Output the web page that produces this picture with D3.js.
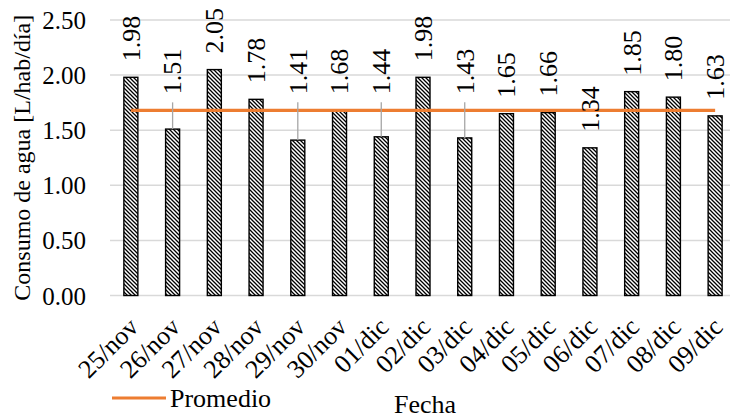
<!DOCTYPE html>
<html>
<head>
<meta charset="utf-8">
<script src="https://cdn.jsdelivr.net/npm/d3@7/dist/d3.min.js"></script>
<style>
  html, body { margin: 0; padding: 0; background: #fff; }
  svg { display: block; }
  svg text { font-family: "Liberation Serif", "Times New Roman", serif !important; fill: #000; }
</style>
</head>
<body>
<svg id="chart" width="730" height="419"></svg>
<script>
// ---- data ----
const categories = ["25/nov","26/nov","27/nov","28/nov","29/nov","30/nov","01/dic","02/dic","03/dic","04/dic","05/dic","06/dic","07/dic","08/dic","09/dic"];
const consumo = [1.98,1.51,2.05,1.78,1.41,1.68,1.44,1.98,1.43,1.65,1.66,1.34,1.85,1.80,1.63];
const promedio = [1.68,1.68,1.68,1.68,1.68,1.68,1.68,1.68,1.68,1.68,1.68,1.68,1.68,1.68,1.68];
const yTicks = [0, 0.5, 1.0, 1.5, 2.0, 2.5];
const seriesName = "Promedio";
const yTitle = "Consumo de agua [L/hab/día]";
const xTitle = "Fecha";
// labels that were moved above the average line (with leader lines)
const liftedLabels = ["26/nov","29/nov","01/dic","03/dic"];

// ---- layout ----
const FONT = "Liberation Serif";
const svg = d3.select("#chart");
const plot = { left: 110, right: 736, top: 20, bottom: 295.5 };
const x = d3.scaleBand().domain(categories).range([plot.left, plot.right]).paddingInner(0).paddingOuter(0);
const y = d3.scaleLinear().domain([0, 2.5]).range([plot.bottom, plot.top]);
const barW = 14;
const cx = d => x(d) + x.bandwidth() / 2;

// pattern
const defs = svg.append("defs");
const pat = defs.append("pattern").attr("id", "hatch").attr("patternUnits", "userSpaceOnUse")
  .attr("width", 4).attr("height", 4);
pat.append("rect").attr("width", 4).attr("height", 4).attr("fill", "#fff");
pat.append("path").attr("d", "M-1,-1 L5,5 M-1,3 L1,5 M3,-1 L5,1")
  .attr("stroke", "#000").attr("stroke-width", 1.3);

// gridlines
svg.append("g").selectAll("line").data(yTicks).join("line")
  .attr("x1", plot.left).attr("x2", 730)
  .attr("y1", d => y(d)).attr("y2", d => y(d))
  .attr("stroke", "#d9d9d9").attr("stroke-width", 1.5);

// y axis labels
const yAxis = d3.axisLeft(y).tickValues(yTicks).tickFormat(d3.format(".2f")).tickSize(0).tickPadding(0);
const yg = svg.append("g").attr("transform", `translate(86,0)`).call(yAxis)
  .attr("font-family", FONT).attr("font-size", 25);
yg.select(".domain").remove();
yg.selectAll("text").attr("font-size", 25).attr("fill", "#000").attr("dy", "0.34em");

// bars
svg.append("g").selectAll("rect").data(categories).join("rect")
  .attr("x", d => cx(d) - barW / 2)
  .attr("y", (d, i) => y(consumo[i]))
  .attr("width", barW)
  .attr("height", (d, i) => y(0) - y(consumo[i]))
  .attr("fill", "url(#hatch)")
  .attr("stroke", "#000").attr("stroke-width", 1.4);

// average line
const line = d3.line().x((d, i) => cx(categories[i])).y(d => y(d));
svg.append("path").datum(promedio).attr("d", line)
  .attr("fill", "none").attr("stroke", "#ED7D31").attr("stroke-width", 3.2);

// data labels
const avgY = y(d3.mean(promedio));
const lg = svg.append("g").attr("font-family", FONT);
categories.forEach((c, i) => {
  const lifted = liftedLabels.includes(c);
  const baseY = lifted ? avgY - 16 : y(consumo[i]) - 16;
  if (lifted) {
    lg.append("line").attr("x1", cx(c)).attr("x2", cx(c))
      .attr("y1", baseY + 8).attr("y2", y(consumo[i]))
      .attr("stroke", "#a6a6a6").attr("stroke-width", 1.3);
  }
  lg.append("text")
    .attr("transform", `translate(${cx(c)},${baseY}) rotate(-90)`)
    .attr("dy", "0.34em")
    .attr("font-size", 26)
    .text(d3.format(".2f")(consumo[i]));
});

// x labels
svg.append("g").attr("font-family", FONT).selectAll("text").data(categories).join("text")
  .attr("transform", d => `translate(${cx(d) + 9},${plot.bottom + 33}) rotate(-45)`)
  .attr("text-anchor", "end")
  .attr("font-size", 26)
  .text(d => d);

// axis titles
svg.append("text").attr("font-family", FONT)
  .attr("transform", `translate(30,${(plot.top + plot.bottom) / 2 + 0}) rotate(-90)`)
  .attr("text-anchor", "middle").attr("font-size", 24)
  .text(yTitle);
svg.append("text").attr("font-family", FONT).attr("x", 425).attr("y", 413).attr("text-anchor", "middle")
  .attr("font-size", 26).text(xTitle);

// legend
svg.append("line").attr("x1", 112).attr("x2", 166).attr("y1", 398).attr("y2", 398)
  .attr("stroke", "#ED7D31").attr("stroke-width", 3.2);
svg.append("text").attr("font-family", FONT).attr("x", 170).attr("y", 407).attr("font-size", 26).text(seriesName);
</script>
</body>
</html>
